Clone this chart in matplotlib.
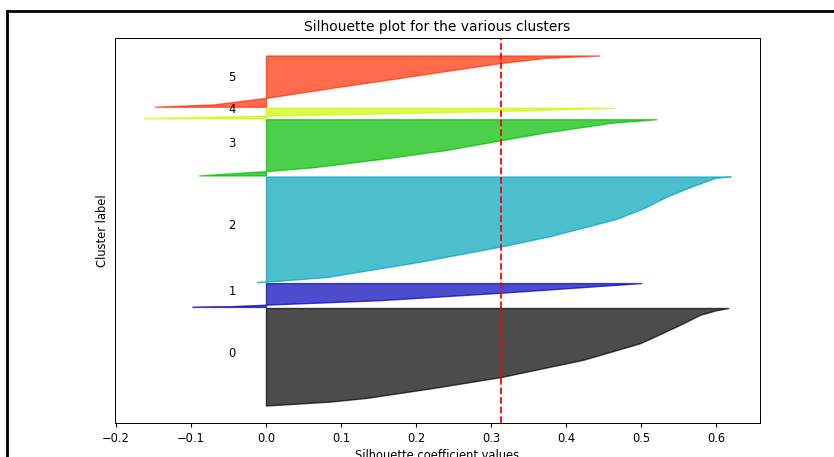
import numpy as np
import matplotlib
matplotlib.use("Agg")
import matplotlib.pyplot as plt
import matplotlib.cm as cm
from matplotlib.lines import Line2D

plt.rcParams["font.size"] = 8.3
plt.rcParams["xtick.major.size"] = 3.0
plt.rcParams["axes.linewidth"] = 0.7

# cluster sizes (number of samples)
n_clusters = 6
cluster_sizes = [980, 240, 1060, 565, 105, 515]

# sorted silhouette values per cluster: rank fraction (0 = bottom) and value
rank_0 = [0.0, 0.04, 0.078, 0.18, 0.292, 0.468, 0.638, 0.75, 0.841, 0.93, 0.976, 1.0]
sil_0 = [0.0, 0.085, 0.134, 0.223, 0.313, 0.422, 0.498, 0.530, 0.555, 0.578, 0.599, 0.616]

rank_1 = [0.0, 0.03, 0.093, 0.283, 0.595, 0.822, 1.0]
sil_1 = [-0.098, -0.048, 0.0, 0.152, 0.313, 0.418, 0.500]

rank_2 = [0.0, 0.003, 0.047, 0.186, 0.336, 0.434, 0.596, 0.70, 0.807, 0.90, 0.988, 1.0]
sil_2 = [-0.012, 0.0, 0.081, 0.200, 0.313, 0.378, 0.466, 0.503, 0.533, 0.565, 0.599, 0.619]

rank_3 = [0.0, 0.077, 0.146, 0.291, 0.453, 0.627, 0.767, 0.941, 1.0]
sil_3 = [-0.089, 0.0, 0.063, 0.152, 0.240, 0.313, 0.373, 0.462, 0.520]

rank_4 = [0.0, 0.237, 0.70, 1.0]
sil_4 = [-0.162, 0.0, 0.313, 0.464]

rank_5 = [0.0, 0.044, 0.172, 0.363, 0.554, 0.746, 0.855, 0.956, 1.0]
sil_5 = [-0.148, -0.070, 0.0, 0.085, 0.174, 0.262, 0.313, 0.373, 0.444]

ranks = [rank_0, rank_1, rank_2, rank_3, rank_4, rank_5]
sils = [sil_0, sil_1, sil_2, sil_3, sil_4, sil_5]

silhouette_avg = 0.3125

fig = plt.figure(figsize=(8.34, 4.57), dpi=100)
ax1 = fig.add_axes([0.1379, 0.0744, 0.7734, 0.8424])

y_lower = 10
for i in range(n_clusters):
    size_cluster_i = cluster_sizes[i]
    y_upper = y_lower + size_cluster_i
    y = y_lower + np.array(ranks[i]) * (size_cluster_i - 1)

    color = cm.nipy_spectral(float(i) / n_clusters)
    ax1.fill_betweenx(y, 0, sils[i],
                      facecolor=color, edgecolor=color, alpha=0.7)

    # label the silhouette plots with their cluster numbers at the middle
    ax1.text(-0.05, y_lower + 0.5 * size_cluster_i, str(i))

    y_lower = y_upper + 10

ax1.set_title("Silhouette plot for the various clusters", pad=5)
ax1.set_xlabel("Silhouette coefficient values", labelpad=3)
ax1.set_ylabel("Cluster label")

# vertical line for average silhouette score
ax1.axvline(x=silhouette_avg, color="red", linestyle="--", linewidth=1.3)

ax1.set_yticks([])
ax1.set_xticks([-0.2, -0.1, 0, 0.1, 0.2, 0.3, 0.4, 0.5, 0.6])

# frame of the screenshot
W, H = 834, 457
fig.add_artist(Line2D([7 / W, 7 / W], [0, 1 - 11 / H], color="black", linewidth=2,
                      transform=fig.transFigure))
fig.add_artist(Line2D([7 / W, 1], [1 - 11 / H, 1 - 11 / H], color="black", linewidth=2,
                      transform=fig.transFigure))

fig.savefig("out.png", dpi=100)
